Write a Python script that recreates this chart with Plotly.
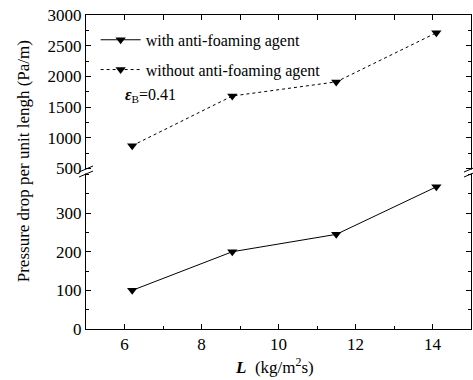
import plotly.graph_objects as go

# Liquid mass flux L (kg/m2 s) and pressure drop per unit length (Pa/m)
L = [6.2, 8.8, 11.5, 14.1]
dp_with_agent = [100, 200, 245, 368]
dp_without_agent = [870, 1680, 1910, 2710]

series_names = ["with anti-foaming agent", "without anti-foaming agent"]
lower_ticks = [0, 100, 200, 300]
upper_ticks = [500, 1000, 1500, 2000, 2500, 3000]
x_ticks = [6, 8, 10, 12, 14]

FONT = "Liberation Serif"
BLACK = "black"

# split y axis: lower panel 0-404, upper panel 472-3000
LOW_DOM = [0.0, 0.497]
UP_DOM = [0.506, 1.0]

fig = go.Figure()
fig.add_trace(go.Scatter(
    x=L, y=dp_with_agent, name=series_names[0], mode="lines+markers",
    line=dict(color=BLACK, width=1, dash="solid"),
    marker=dict(symbol="triangle-down", size=9, color=BLACK),
    xaxis="x", yaxis="y", legendgroup="with",
))
fig.add_trace(go.Scatter(
    x=L, y=dp_without_agent, name=series_names[1], mode="lines+markers",
    line=dict(color=BLACK, width=1, dash="dot"),
    marker=dict(symbol="triangle-down", size=9, color=BLACK),
    xaxis="x2", yaxis="y2", legendgroup="without",
))

axis_common = dict(
    showline=True, linecolor=BLACK, linewidth=1, ticks="inside",
    tickcolor=BLACK, ticklen=5, showgrid=False, zeroline=False,
    tickfont=dict(family=FONT, size=17, color=BLACK),
)

fig.update_layout(
    width=473, height=380,
    margin=dict(l=86, r=2, t=15, b=51),
    paper_bgcolor="white", plot_bgcolor="white",
    font=dict(family=FONT, size=16, color=BLACK),
    showlegend=True,
    legend=dict(
        x=0.025, y=0.975, xanchor="left", yanchor="top",
        bgcolor="rgba(0,0,0,0)", borderwidth=0,
        font=dict(family=FONT, size=16, color=BLACK),
        itemwidth=40, tracegroupgap=6,
    ),
    xaxis=dict(
        **axis_common, anchor="y", domain=[0, 1], range=[5, 15],
        tickvals=x_ticks, mirror=False,
        minor=dict(ticks="inside", dtick=1, ticklen=3, tickcolor=BLACK),
    ),
    xaxis2=dict(
        **axis_common, anchor="y2", domain=[0, 1], range=[5, 15],
        matches="x", side="top", showticklabels=False, dtick=1, mirror=False,
    ),
    yaxis=dict(
        **axis_common, anchor="x", domain=LOW_DOM, range=[0, 404],
        tickvals=lower_ticks, mirror="ticks",
        minor=dict(ticks="inside", dtick=50, ticklen=3, tickcolor=BLACK),
    ),
    yaxis2=dict(
        **axis_common, anchor="x2", domain=UP_DOM, range=[472, 3000],
        tickvals=upper_ticks, mirror="ticks",
        minor=dict(ticks="inside", dtick=250, ticklen=3, tickcolor=BLACK),
    ),
)

# axis titles
fig.add_annotation(
    text="Pressure drop per unit lengh (Pa/m)", textangle=-90,
    xref="paper", yref="paper", x=-0.163, y=0.535,
    xanchor="center", yanchor="middle", showarrow=False,
    font=dict(family=FONT, size=17, color=BLACK),
)
fig.add_annotation(
    text="<b><i>L</i></b>  (kg/m<sup>2</sup>s)",
    xref="paper", yref="paper", x=0.49, y=-0.118,
    xanchor="center", yanchor="middle", showarrow=False,
    font=dict(family=FONT, size=17, color=BLACK),
)
# bed voidage label
fig.add_annotation(
    text="<b><i>ε</i></b><sub>B</sub>=0.41",
    xref="paper", yref="paper", x=0.095, y=0.745,
    xanchor="left", yanchor="middle", showarrow=False,
    font=dict(family=FONT, size=16, color=BLACK),
)

# axis break marks on both vertical axes
brk_y = (LOW_DOM[1] + UP_DOM[0]) / 2
for xa in (0, 1):
    fig.add_shape(
        type="rect", xref="paper", yref="paper",
        xsizemode="pixel", ysizemode="pixel", xanchor=xa, yanchor=brk_y,
        x0=-2, x1=2, y0=-2, y1=2, line=dict(width=0), fillcolor="white",
    )
    for dy in (-2.5, 2.5):
        fig.add_shape(
            type="line", xref="paper", yref="paper",
            xsizemode="pixel", ysizemode="pixel", xanchor=xa, yanchor=brk_y,
            x0=-7, x1=7, y0=dy - 3, y1=dy + 3,
            line=dict(color=BLACK, width=1),
        )

fig.write_html("out.html")
